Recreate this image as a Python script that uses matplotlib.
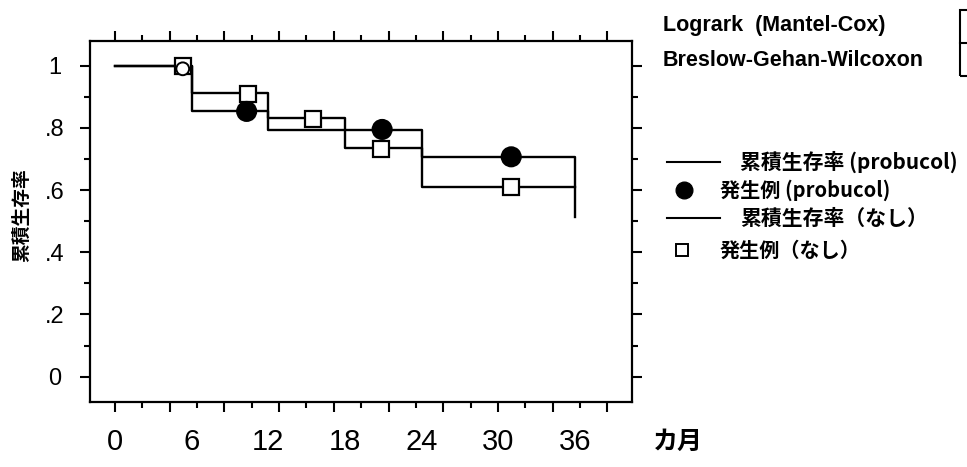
import numpy as np
import matplotlib.pyplot as plt
from matplotlib.lines import Line2D
from matplotlib.patches import Rectangle
import matplotlib.transforms as mtransforms

plt.rcParams['font.family'] = ['Noto Sans CJK JP', 'DejaVu Sans']

# cumulative survival (step curves)
months_probucol = [0, 6, 12, 24, 36]
surv_probucol = [1.0, 0.855, 0.793, 0.707, 0.513]
months_none = [0, 6, 12, 18, 24, 36]
surv_none = [1.0, 0.911, 0.831, 0.734, 0.609, 0.609]

# events
event_x_probucol = [5.3, 10.3, 20.9, 31.0]
event_y_probucol = [0.99, 0.853, 0.795, 0.707]
event_x_none = [5.3, 10.4, 15.5, 20.8, 31.0]
event_y_none = [1.0, 0.91, 0.828, 0.733, 0.609]

x_labels = [0, 6, 12, 18, 24, 30, 36]
y_ticks = [0, 0.2, 0.4, 0.6, 0.8, 1.0]
y_labels = ['0', '.2', '.4', '.6', '.8', '1']

legend_texts = ['累積生存率 (probucol)', '発生例 (probucol)', '累積生存率（なし）', '発生例（なし）']
test_names = ['Logrark  (Mantel-Cox)', 'Breslow-Gehan-Wilcoxon']

W, H = 967, 467
fig = plt.figure(figsize=(W / 100, H / 100), dpi=100)
ax = fig.add_axes([90 / W, 1 - 401.7 / H, 542 / W, 360.7 / H])

ax.step(months_probucol, surv_probucol, where='post', color='black', lw=1.7)
ax.step(months_none, surv_none, where='post', color='black', lw=1.7)

ax.plot(event_x_none, event_y_none, 's', ms=11, mfc='white', mec='black', mew=1.6, zorder=3)
ax.scatter(event_x_probucol, event_y_probucol, s=[85, 190, 190, 190],
           facecolors=['white', 'black', 'black', 'black'], edgecolors='black',
           linewidths=1.4, zorder=4)

ax.set_xlim(-1.956, 40.45)
ax.set_ylim(-0.0804, 1.0794)

# tick marks
ax.set_xticks(np.arange(10) * 4.28)
ax.set_xticks(np.arange(19) * 2.14, minor=True)
ax.tick_params(axis='x', which='both', direction='out', top=True, bottom=True,
               labelbottom=False, width=1.5)
ax.tick_params(axis='x', which='major', length=7.5)
ax.tick_params(axis='x', which='minor', length=4)

ax.set_yticks(y_ticks)
ax.set_yticks(np.arange(11) * 0.1, minor=True)
ax.set_yticklabels(y_labels, fontsize=17, family=['Liberation Sans', 'DejaVu Sans'])
ax.tick_params(axis='y', which='both', direction='out', left=True, right=True, width=1.5)
ax.tick_params(axis='y', which='major', length=7.5, pad=18)
ax.tick_params(axis='y', which='minor', length=4)
for lbl in ax.get_yticklabels():
    lbl.set_horizontalalignment('center')

for s in ax.spines.values():
    s.set_linewidth(1.6)

# month labels under the axis
trans = mtransforms.blended_transform_factory(ax.transData, ax.transAxes)
for m in x_labels:
    ax.text(m, -0.112, str(m), transform=trans, ha='center', va='center',
            fontsize=21, family=['Liberation Sans', 'DejaVu Sans'])
fig.text(678 / W, 1 - 442 / H, 'カ月', ha='center', va='center', fontsize=18, weight='bold')

fig.text(22 / W, 1 - 215 / H, '累積生存率', rotation=90, ha='center', va='center',
         fontsize=13.5, weight='bold')

# test names and the cut-off box on the right
fig.text(663 / W, 1 - 25 / H, test_names[0], ha='left', va='center', fontsize=15.5,
         weight='bold', family=['Liberation Sans', 'DejaVu Sans'])
fig.text(663 / W, 1 - 60 / H, test_names[1], ha='left', va='center', fontsize=15.5,
         weight='bold', family=['Liberation Sans', 'DejaVu Sans'])
fig.add_artist(Rectangle((960 / W, 1 - 76 / H), 20 / W, 66 / H, fill=False, lw=1.5,
                         transform=fig.transFigure))
fig.add_artist(Line2D([960 / W, 1], [1 - 43 / H, 1 - 43 / H], color='black', lw=1.5,
                      transform=fig.transFigure))

# legend
fig.add_artist(Line2D([667 / W, 720 / W], [1 - 162 / H] * 2, color='black', lw=1.5,
                      transform=fig.transFigure))
fig.add_artist(Line2D([667 / W, 720 / W], [1 - 218 / H] * 2, color='black', lw=1.5,
                      transform=fig.transFigure))
fig.add_artist(Line2D([683.5 / W], [1 - 190 / H], marker='o', ms=12, color='black',
                      transform=fig.transFigure))
fig.add_artist(Line2D([682 / W], [1 - 250 / H], marker='s', ms=8, mfc='white', mec='black',
                      mew=1.4, transform=fig.transFigure))
fig.text(740 / W, 1 - 162 / H, legend_texts[0], ha='left', va='center', fontsize=15, weight='bold')
fig.text(720 / W, 1 - 190 / H, legend_texts[1], ha='left', va='center', fontsize=14.5, weight='bold')
fig.text(740 / W, 1 - 218 / H, legend_texts[2], ha='left', va='center', fontsize=15, weight='bold')
fig.text(720 / W, 1 - 250 / H, legend_texts[3], ha='left', va='center', fontsize=14.5, weight='bold')

fig.savefig('out.png', dpi=100)
